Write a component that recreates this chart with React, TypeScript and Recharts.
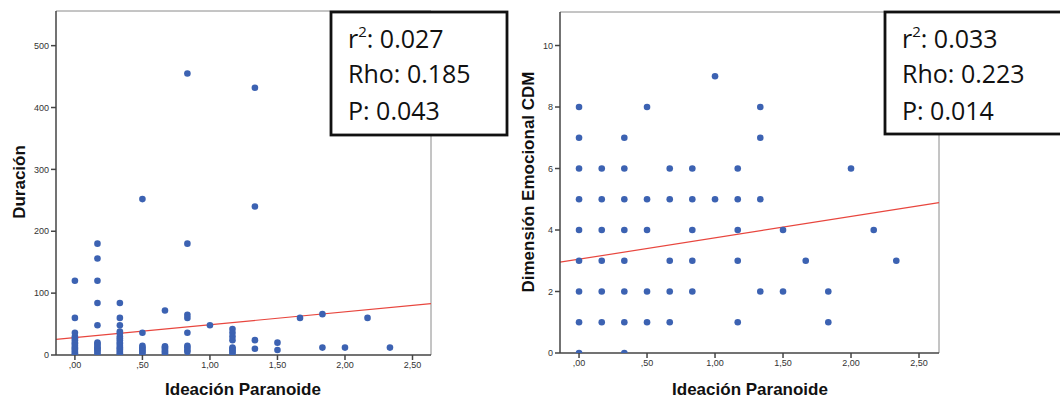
import React from "react";
import { ScatterChart, Scatter, XAxis, YAxis, ReferenceLine } from "recharts";

// ---------- data ----------
const xTicks = [0, 0.5, 1, 1.5, 2, 2.5];
const xTickLabels = [",00", ",50", "1,00", "1,50", "2,00", "2,50"];
const durTicks = [0, 100, 200, 300, 400, 500];
const cdmTicks = [0, 2, 4, 6, 8, 10];

// Duración vs Ideación Paranoide: [x, y]
const durationPoints: [number, number][] = [
  [0, 120], [0, 60], [0, 36], [0, 30], [0, 27], [0, 24], [0, 20], [0, 18], [0, 15], [0, 12], [0, 10], [0, 8], [0, 5], [0, 3], [0, 0],
  [0.167, 180], [0.167, 156], [0.167, 120], [0.167, 84], [0.167, 48], [0.167, 20], [0.167, 18], [0.167, 15], [0.167, 12], [0.167, 10], [0.167, 8], [0.167, 5], [0.167, 2],
  [0.333, 84], [0.333, 60], [0.333, 48], [0.333, 38], [0.333, 35], [0.333, 30], [0.333, 27], [0.333, 24], [0.333, 20], [0.333, 18], [0.333, 15], [0.333, 12], [0.333, 10], [0.333, 8], [0.333, 5], [0.333, 3], [0.333, 0],
  [0.5, 252], [0.5, 36], [0.5, 15], [0.5, 12], [0.5, 10], [0.5, 7], [0.5, 5], [0.5, 2],
  [0.667, 72], [0.667, 14], [0.667, 12], [0.667, 10], [0.667, 7], [0.667, 5], [0.667, 3],
  [0.833, 455], [0.833, 180], [0.833, 65], [0.833, 60], [0.833, 36], [0.833, 15], [0.833, 12], [0.833, 8], [0.833, 5],
  [1.0, 48],
  [1.167, 42], [1.167, 36], [1.167, 30], [1.167, 24], [1.167, 12], [1.167, 10], [1.167, 7], [1.167, 5], [1.167, 2],
  [1.333, 432], [1.333, 240], [1.333, 24], [1.333, 10],
  [1.5, 20], [1.5, 8],
  [1.667, 60],
  [1.833, 66], [1.833, 12],
  [2.0, 12],
  [2.167, 60],
  [2.333, 12],
];

// Dimensión Emocional CDM vs Ideación Paranoide: [x, y]
const cdmPoints: [number, number][] = [
  [0, 8], [0, 7], [0, 6], [0, 5], [0, 4], [0, 3], [0, 2], [0, 1], [0, 0],
  [0.167, 6], [0.167, 5], [0.167, 4], [0.167, 3], [0.167, 2], [0.167, 1],
  [0.333, 7], [0.333, 6], [0.333, 5], [0.333, 4], [0.333, 3], [0.333, 2], [0.333, 1], [0.333, 0],
  [0.5, 8], [0.5, 5], [0.5, 4], [0.5, 2], [0.5, 1],
  [0.667, 6], [0.667, 5], [0.667, 3], [0.667, 2], [0.667, 1],
  [0.833, 6], [0.833, 5], [0.833, 4], [0.833, 3], [0.833, 2],
  [1.0, 9], [1.0, 5],
  [1.167, 6], [1.167, 5], [1.167, 4], [1.167, 3], [1.167, 1],
  [1.333, 8], [1.333, 7], [1.333, 5], [1.333, 2],
  [1.5, 4], [1.5, 2],
  [1.667, 3],
  [1.833, 2], [1.833, 1],
  [2.0, 6],
  [2.167, 4],
  [2.333, 3],
];

// regression fits: [intercept, slope]
const durFit = [28.3, 20.7];
const cdmFit = [3.05, 0.696];

const durStats = ["0.027", "0.185", "0.043"];
const cdmStats = ["0.033", "0.223", "0.014"];

// ---------- styling ----------
const DOT = "#3c62b2";
const FIT = "#e8463e";
const AXIS = "#444";
const FRAME = "#8a8a8a";
const FONT = "'Liberation Sans', Arial, sans-serif";

const toObjs = (pts: [number, number][]) => pts.map(([x, y]) => ({ x, y }));

const Dot = (props: any) => {
  const { cx, cy } = props;
  if (cx == null || cy == null) return null;
  return <circle cx={cx} cy={cy} r={3.3} fill={DOT} />;
};

const fmtX = (v: number) => {
  const i = xTicks.indexOf(v);
  return i >= 0 ? xTickLabels[i] : String(v);
};

type PanelProps = {
  left: number;
  width: number;
  margin: { top: number; right: number; bottom: number; left: number };
  xHeight: number;
  yWidth: number;
  xDomain: [number, number];
  yDomain: [number, number];
  yTicks: number[];
  points: [number, number][];
  fit: number[];
};

function Panel(p: PanelProps) {
  const [x0, x1] = p.xDomain;
  const [, y1] = p.yDomain;
  const seg = [
    { x: x0, y: p.fit[0] + p.fit[1] * x0 },
    { x: x1, y: p.fit[0] + p.fit[1] * x1 },
  ];
  return (
    <div style={{ position: "absolute", left: p.left, top: 0 }}>
      <ScatterChart width={p.width} height={399} margin={p.margin}>
        <XAxis
          type="number"
          dataKey="x"
          domain={p.xDomain}
          ticks={xTicks}
          tickFormatter={fmtX}
          allowDataOverflow
          stroke={AXIS}
          strokeWidth={1.5}
          tickSize={5}
          tick={{ fontSize: 9, fill: "#333", fontFamily: FONT }}
          height={p.xHeight}
        />
        <YAxis
          type="number"
          dataKey="y"
          domain={p.yDomain}
          ticks={p.yTicks}
          allowDataOverflow
          stroke={AXIS}
          strokeWidth={1.5}
          tickSize={5}
          width={p.yWidth}
          tick={{ fontSize: 9, fill: "#333", fontFamily: FONT }}
        />
        <ReferenceLine y={y1} stroke={FRAME} strokeWidth={1} ifOverflow="extendDomain" />
        <ReferenceLine x={x1} stroke={FRAME} strokeWidth={1} ifOverflow="extendDomain" />
        <ReferenceLine segment={seg} stroke={FIT} strokeWidth={1.2} ifOverflow="visible" />
        <Scatter data={toObjs(p.points)} shape={Dot} isAnimationActive={false} />
      </ScatterChart>
    </div>
  );
}

function StatsBox({ left, top, width, height, stats }: { left: number; top: number; width: number; height: number; stats: string[] }) {
  const tx = left + 17;
  const style = { fontFamily: "'Open Sans', sans-serif", fontSize: 25, fill: "#111" } as const;
  return (
    <g>
      <rect x={left} y={top} width={width} height={height} fill="#fff" stroke="#111" strokeWidth={2.8} />
      <text x={tx} y={top + 36} style={style}>
        r<tspan dy={-11} fontSize={15}>2</tspan>
        <tspan dy={11}>: {stats[0]}</tspan>
      </text>
      <text x={tx} y={top + 71} style={style}>Rho: {stats[1]}</text>
      <text x={tx} y={top + 108} style={style}>P: {stats[2]}</text>
    </g>
  );
}

export default function App() {
  return (
    <div style={{ position: "absolute", left: 0, top: 0, width: 1060, height: 399, background: "#fff", overflow: "hidden" }}>
      <Panel
        left={0}
        width={440}
        margin={{ top: 11, right: 9, bottom: 0, left: 0 }}
        xHeight={44}
        yWidth={56}
        xDomain={[-0.14, 2.637]}
        yDomain={[0, 556]}
        yTicks={durTicks}
        points={durationPoints}
        fit={durFit}
      />
      <Panel
        left={500}
        width={460}
        margin={{ top: 12, right: 21, bottom: 0, left: 0 }}
        xHeight={46}
        yWidth={60}
        xDomain={[-0.14, 2.647]}
        yDomain={[0, 11.09]}
        yTicks={cdmTicks}
        points={cdmPoints}
        fit={cdmFit}
      />
      <svg width={1060} height={399} style={{ position: "absolute", left: 0, top: 0, pointerEvents: "none" }}>
        <text
          transform="translate(25,182) rotate(-90)"
          textAnchor="middle"
          style={{ fontFamily: FONT, fontWeight: "bold", fontSize: 17, fill: "#111" }}
        >
          Duración
        </text>
        <text x={243} y={395} textAnchor="middle" style={{ fontFamily: FONT, fontWeight: "bold", fontSize: 17, fill: "#111" }}>
          Ideación Paranoide
        </text>
        <text
          transform="translate(534,182) rotate(-90)"
          textAnchor="middle"
          style={{ fontFamily: FONT, fontWeight: "bold", fontSize: 17, fill: "#111" }}
        >
          Dimensión Emocional CDM
        </text>
        <text x={750} y={395} textAnchor="middle" style={{ fontFamily: FONT, fontWeight: "bold", fontSize: 17, fill: "#111" }}>
          Ideación Paranoide
        </text>
        <StatsBox left={331} top={12} width={176} height={123} stats={durStats} />
        <StatsBox left={885} top={12} width={180} height={122} stats={cdmStats} />
      </svg>
    </div>
  );
}
